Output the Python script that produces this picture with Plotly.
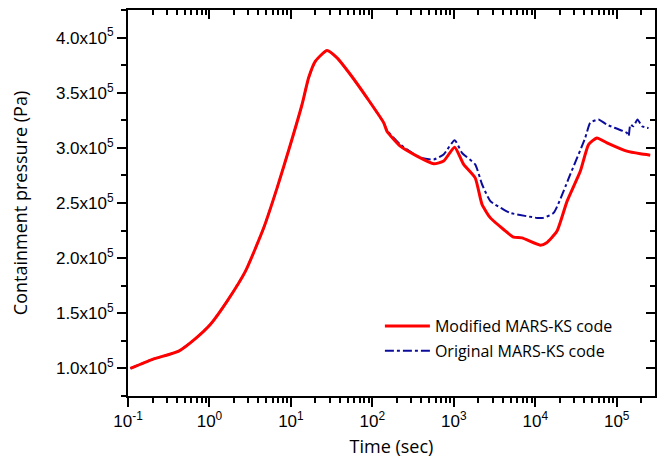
import plotly.graph_objects as go

# ---- data ----
t_mod = [0.107, 0.20, 0.42, 0.69, 1.03, 1.65, 2.77, 4.64, 6.77, 9.86, 13.7, 16.5, 20, 27.8, 36.9,
         53.7, 86, 138, 151, 220, 353, 567, 750, 1023, 1320, 1830, 2220, 2810, 4090, 5420,
         6870, 11500, 13800, 18500, 24600, 35800, 45100, 57200, 75900, 133000, 195000, 258000]
p_mod = [1.00, 1.082, 1.157, 1.277, 1.40, 1.61, 1.882, 2.275, 2.637, 3.03, 3.393, 3.635, 3.786, 3.883, 3.816,
         3.665, 3.453, 3.227, 3.15, 3.015, 2.925, 2.855, 2.88, 3.006, 2.85, 2.728, 2.487, 2.365, 2.26, 2.19,
         2.184, 2.118, 2.14, 2.245, 2.517, 2.79, 3.03, 3.09, 3.045, 2.97, 2.946, 2.934]

t_orig = [0.107, 0.20, 0.42, 0.69, 1.03, 1.65, 2.77, 4.64, 6.77, 9.86, 13.7, 16.5, 20, 27.8, 36.9,
          53.7, 86, 138, 151, 220, 390, 567, 750, 1023, 1260, 1830, 2220, 2810, 4090, 4940,
          7900, 10500, 12500, 16800, 26900, 41000, 47300, 59800, 75900, 133000, 140000, 147000,
          160000, 180000, 204000, 246000]
p_orig = [1.00, 1.082, 1.157, 1.277, 1.40, 1.61, 1.882, 2.275, 2.637, 3.03, 3.393, 3.635, 3.786, 3.883, 3.816,
          3.665, 3.453, 3.227, 3.16, 3.03, 2.91, 2.895, 2.94, 3.07, 2.955, 2.85, 2.67, 2.517, 2.44, 2.41,
          2.38, 2.365, 2.365, 2.41, 2.76, 3.09, 3.227, 3.257, 3.21, 3.136, 3.106, 3.21,
          3.196, 3.257, 3.196, 3.18]

scale = 1e5
y_tick_vals = [1.0, 1.5, 2.0, 2.5, 3.0, 3.5, 4.0]
y_tick_text = ["%.1fx10<sup>5</sup>" % v for v in y_tick_vals]
x_tick_vals = [0.1, 1, 10, 100, 1000, 10000, 100000]
x_tick_text = ["10<sup>-1</sup>", "10<sup>0</sup>", "10<sup>1</sup>", "10<sup>2</sup>",
               "10<sup>3</sup>", "10<sup>4</sup>", "10<sup>5</sup>"]

series_names = ["Modified MARS-KS code", "Original MARS-KS code"]

fig = go.Figure()
fig.add_trace(go.Scatter(
    x=t_orig, y=[v * scale for v in p_orig], mode="lines", name=series_names[1],
    line=dict(color="#0c0c9c", width=2, dash="dashdot", shape="spline", smoothing=0.5),
    legendgroup="b", legendrank=2))
fig.add_trace(go.Scatter(
    x=t_mod, y=[v * scale for v in p_mod], mode="lines", name=series_names[0],
    line=dict(color="#ff0000", width=3, shape="spline", smoothing=0.5),
    legendgroup="a", legendrank=1))
# invisible trace to anchor the mirrored axes
fig.add_trace(go.Scatter(x=[1], y=[2e5], xaxis="x2", yaxis="y2", mode="markers",
                         marker=dict(opacity=0), showlegend=False, hoverinfo="skip"))

xr = [-1, 5.47]
yr = [0.75e5, 4.25e5]
tickfont = dict(family="Liberation Sans, Arial", size=17, color="black")
titlefont = dict(family="Open Sans", size=18, color="black")
TL, ML = 9, 5

fig.update_layout(
    width=670, height=464,
    margin=dict(l=128, r=15, t=10, b=68),
    paper_bgcolor="white", plot_bgcolor="white",
    showlegend=True,
    legend=dict(x=0.478, y=0.225, xanchor="left", yanchor="top", bgcolor="rgba(0,0,0,0)",
                font=dict(family="Open Sans", size=16, color="black"),
                tracegroupgap=1, itemwidth=45),
    xaxis=dict(type="log", range=xr, tickvals=x_tick_vals, ticktext=x_tick_text,
               ticks="outside", ticklen=TL, tickwidth=1.5, tickcolor="black",
               showline=True, linecolor="black", linewidth=2, showgrid=False, zeroline=False,
               tickfont=tickfont, automargin=False,
               minor=dict(ticks="outside", ticklen=ML, tickwidth=1.5, tickcolor="black", dtick="D1", showgrid=False),
               title=dict(text="Time (sec)", font=titlefont, standoff=10)),
    yaxis=dict(range=yr, tickvals=[v * scale for v in y_tick_vals], ticktext=y_tick_text,
               ticks="outside", ticklen=TL, tickwidth=1.5, tickcolor="black",
               showline=True, linecolor="black", linewidth=2, showgrid=False, zeroline=False,
               tickfont=tickfont, automargin=False,
               minor=dict(ticks="outside", ticklen=ML, tickwidth=1.5, tickcolor="black",
                          tick0=0.75e5, dtick=0.25e5, showgrid=False),
               title=dict(text="Containment pressure (Pa)", font=titlefont, standoff=24)),
    xaxis2=dict(type="log", range=xr, overlaying="x", side="top", anchor="y2",
                tickvals=x_tick_vals, ticks="inside", ticklen=TL, tickwidth=1.5, tickcolor="black",
                showticklabels=False, showline=True, linecolor="black", linewidth=2, showgrid=False,
                zeroline=False, automargin=False,
                minor=dict(ticks="inside", ticklen=ML, tickwidth=1.5, tickcolor="black", dtick="D1", showgrid=False)),
    yaxis2=dict(range=yr, overlaying="y", side="right", anchor="x2",
                tickvals=[v * scale for v in y_tick_vals], ticks="inside", ticklen=TL, tickwidth=1.5,
                tickcolor="black", showticklabels=False, showline=True, linecolor="black", linewidth=2,
                showgrid=False, zeroline=False, automargin=False,
                minor=dict(ticks="inside", ticklen=ML, tickwidth=1.5, tickcolor="black",
                           tick0=0.75e5, dtick=0.25e5, showgrid=False)),
)

fig.write_html("out.html", config={"displayModeBar": False},
               post_script="document.body.style.margin='0';document.body.style.overflow='hidden';")
